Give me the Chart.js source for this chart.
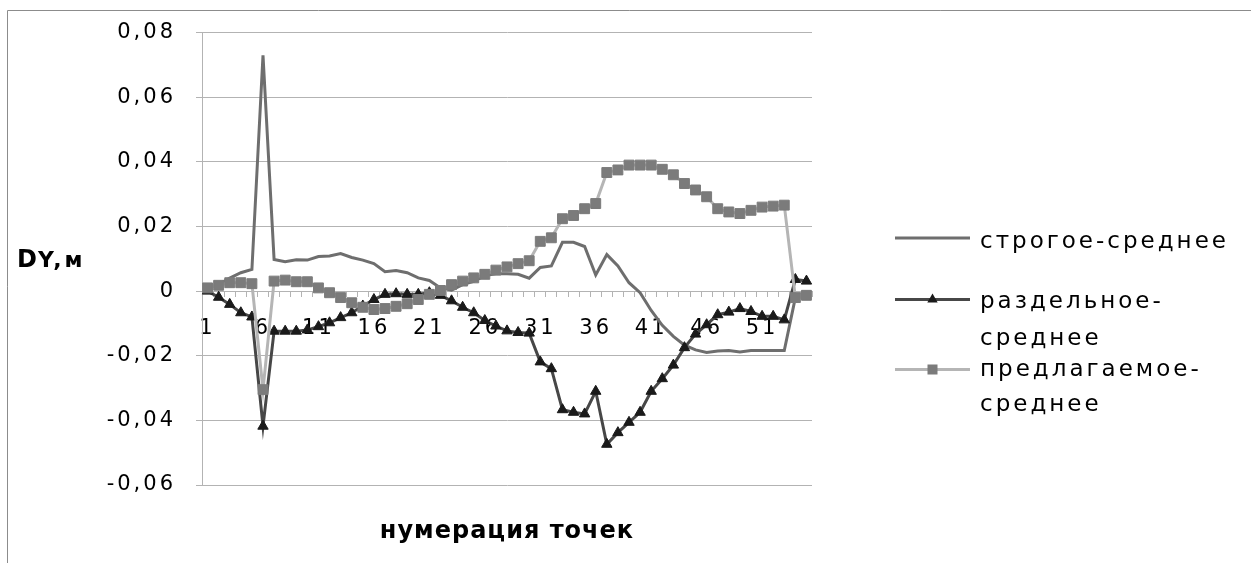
<!DOCTYPE html>
<html>
<head>
<meta charset="utf-8">
<script src="https://cdn.jsdelivr.net/npm/chart.js@4/dist/chart.umd.min.js"></script>
<style>
  html, body { margin: 0; padding: 0; background: #ffffff; }
  #wrap { position: relative; width: 1251px; height: 563px; }
</style>
</head>
<body>
<div id="wrap"><canvas id="c" width="1251" height="563"></canvas></div>
<script>
// ---- data ----
const categories = ['1','2','3','4','5','6','7','8','9','10','11','12','13','14','15','16','17','18','19','20',
  '21','22','23','24','25','26','27','28','29','30','31','32','33','34','35','36','37','38','39','40',
  '41','42','43','44','45','46','47','48','49','50','51','52','53','54','55'];

const xTickLabels = ['1','6','11','16','21','26','31','36','41','46','51'];
const yTickValues = [-0.06, -0.04, -0.02, 0, 0.02, 0.04, 0.06, 0.08];
const yTickLabels = ['-0,06','-0,04','-0,02','0','0,02','0,04','0,06','0,08'];

const seriesNames = ['строгое-среднее', 'раздельное-среднее', 'предлагаемое-среднее'];

const strogoe = [0.001, 0.002, 0.004, 0.0057, 0.0067, 0.073, 0.0098, 0.0091, 0.0097, 0.0096,
  0.0107, 0.0109, 0.0116, 0.0104, 0.0096, 0.0085, 0.006, 0.0064, 0.0057, 0.0041,
  0.0033, 0.001, 0.0003, 0.002, 0.003, 0.0048, 0.0054, 0.0054, 0.0052, 0.004,
  0.0073, 0.0078, 0.0151, 0.0151, 0.0138, 0.005, 0.0113, 0.0078, 0.0026, -0.0005,
  -0.006, -0.0106, -0.014, -0.0167, -0.0182, -0.019, -0.0185, -0.0184, -0.0188, -0.0184,
  -0.0184, -0.0184, -0.0184, -0.002, -0.0015];

const razdelnoe = [0, -0.0019, -0.0041, -0.0067, -0.008, -0.0418, -0.0124, -0.0124, -0.0124, -0.012,
  -0.011, -0.0098, -0.0082, -0.0067, -0.0046, -0.0026, -0.001, -0.0008, -0.001, -0.001,
  -0.0005, -0.0013, -0.003, -0.005, -0.0067, -0.0091, -0.0108, -0.0123, -0.0128, -0.013,
  -0.0219, -0.024, -0.0367, -0.0375, -0.038, -0.031, -0.0474, -0.0438, -0.0406, -0.0375,
  -0.031, -0.0271, -0.0229, -0.0175, -0.0133, -0.0104, -0.0073, -0.0065, -0.0054, -0.0063,
  -0.0078, -0.0078, -0.0089, 0.0036, 0.0031];

const predlagaemoe = [0.001, 0.0018, 0.0026, 0.0026, 0.0023, -0.0305, 0.0031, 0.0034, 0.0029, 0.0029,
  0.001, -0.0005, -0.002, -0.0036, -0.005, -0.0057, -0.0054, -0.0047, -0.0039, -0.0026,
  -0.001, 0.0002, 0.002, 0.0031, 0.0041, 0.0052, 0.0065, 0.0075, 0.0085, 0.0094,
  0.0154, 0.0165, 0.0224, 0.0234, 0.0255, 0.0271, 0.0367, 0.0375, 0.039, 0.039,
  0.039, 0.0377, 0.036, 0.0333, 0.0313, 0.0292, 0.0255, 0.0245, 0.024, 0.025,
  0.026, 0.0263, 0.0266, -0.002, -0.0013];

const yTitleMain = 'D';
const yTitleSub = 'Y,м';
const xTitle = 'нумерация точек';
const legendLines = [['строгое-среднее'], ['раздельное-', 'среднее'], ['предлагаемое-', 'среднее']];

// ---- styles ----
const FONT = "'DejaVu Sans', sans-serif";
const C_STROG = '#6e6e6e';
const C_RAZD_LINE = '#474747';
const C_RAZD_PT = '#1a1a1a';
const C_PRED_LINE = '#b5b5b5';
const C_PRED_PT = '#7b7b7b';
const C_GRID = '#b3b3b3';
const TICK_SPACING = '3px';

function setSpacing(ctx, v) { try { ctx.letterSpacing = v; } catch (e) {} }

const decorPlugin = {
  id: 'decor',
  beforeUpdate(chart) { setSpacing(chart.ctx, TICK_SPACING); },
  beforeLayout(chart) { setSpacing(chart.ctx, TICK_SPACING); },
  beforeDraw(chart) {
    const ctx = chart.ctx;
    setSpacing(ctx, TICK_SPACING);
    ctx.save();
    ctx.strokeStyle = '#8c8c8c';
    ctx.lineWidth = 1;
    ctx.beginPath();
    ctx.moveTo(7.5, 563);
    ctx.lineTo(7.5, 10.5);
    ctx.lineTo(1251, 10.5);
    ctx.stroke();
    ctx.restore();
  },
  afterDraw(chart) {
    const ctx = chart.ctx;
    ctx.save();
    ctx.fillStyle = '#000';
    ctx.textBaseline = 'alphabetic';
    // y title
    ctx.textAlign = 'left';
    setSpacing(ctx, '0px');
    ctx.font = 'bold 24px ' + FONT;
    ctx.fillText(yTitleMain, 17, 267);
    const w = ctx.measureText(yTitleMain).width;
    setSpacing(ctx, '3px');
    ctx.font = 'bold 22px ' + FONT;
    ctx.fillText(yTitleSub, 17 + w + 1, 267);
    // x title
    ctx.textAlign = 'center';
    setSpacing(ctx, '1px');
    ctx.font = 'bold 24px ' + FONT;
    const area = chart.chartArea;
    ctx.fillText(xTitle, (area.left + area.right) / 2, 538);

    // legend
    const lineY = [238, 299.5, 369.5];
    const textY = [[248], [308, 345], [376, 411]];
    const lineCols = [C_STROG, C_RAZD_LINE, C_PRED_LINE];
    ctx.textAlign = 'left';
    ctx.font = '23px ' + FONT;
    for (let i = 0; i < 3; i++) {
      setSpacing(ctx, '0px');
      ctx.strokeStyle = lineCols[i];
      ctx.lineWidth = 3;
      ctx.beginPath();
      ctx.moveTo(895, lineY[i]);
      ctx.lineTo(970, lineY[i]);
      ctx.stroke();
      if (i === 1) {
        ctx.fillStyle = C_RAZD_PT;
        ctx.beginPath();
        ctx.moveTo(932.5, lineY[i] - 6);
        ctx.lineTo(937.7, lineY[i] + 3);
        ctx.lineTo(927.3, lineY[i] + 3);
        ctx.closePath();
        ctx.fill();
      } else if (i === 2) {
        ctx.fillStyle = C_PRED_PT;
        ctx.fillRect(927.5, lineY[i] - 5, 10, 10);
      }
      ctx.fillStyle = '#000';
      setSpacing(ctx, '3px');
      for (let j = 0; j < legendLines[i].length; j++) {
        ctx.fillText(legendLines[i][j], 980, textY[i][j]);
      }
    }
    ctx.restore();
    setSpacing(ctx, TICK_SPACING);
  }
};

const ctx = document.getElementById('c').getContext('2d');
new Chart(ctx, {
  type: 'line',
  data: {
    labels: categories,
    datasets: [
      {
        label: seriesNames[0],
        data: strogoe,
        borderColor: C_STROG,
        backgroundColor: C_STROG,
        borderWidth: 3,
        pointRadius: 0,
        tension: 0,
        order: 3
      },
      {
        label: seriesNames[1],
        data: razdelnoe,
        borderColor: C_RAZD_LINE,
        backgroundColor: C_RAZD_PT,
        pointBackgroundColor: C_RAZD_PT,
        pointBorderColor: C_RAZD_PT,
        pointStyle: 'triangle',
        pointRadius: 6,
        pointBorderWidth: 1,
        borderWidth: 3,
        tension: 0,
        order: 2
      },
      {
        label: seriesNames[2],
        data: predlagaemoe,
        borderColor: C_PRED_LINE,
        backgroundColor: C_PRED_PT,
        pointBackgroundColor: C_PRED_PT,
        pointBorderColor: C_PRED_PT,
        pointStyle: 'rect',
        pointRadius: 7,
        pointBorderWidth: 1,
        borderWidth: 3,
        tension: 0,
        order: 1
      }
    ]
  },
  options: {
    responsive: false,
    animation: false,
    devicePixelRatio: 1,
    layout: { padding: { left: 0, right: 439, top: 32, bottom: 78 } },
    plugins: {
      legend: { display: false },
      tooltip: { enabled: false },
      title: { display: false }
    },
    scales: {
      x: {
        type: 'category',
        position: { y: 0 },
        offset: true,
        grid: {
          offset: true,
          drawOnChartArea: false,
          drawTicks: true,
          tickLength: 5,
          color: C_GRID
        },
        border: { display: true, color: C_GRID, width: 1 },
        ticks: {
          autoSkip: false,
          maxRotation: 0,
          minRotation: 0,
          padding: 20,
          color: '#000',
          font: { family: FONT, size: 21 },
          callback: function (value, index) {
            const lab = categories[index];
            return xTickLabels.includes(lab) ? lab : '';
          }
        }
      },
      y: {
        min: -0.06,
        max: 0.08,
        afterBuildTicks(scale) {
          scale.ticks = yTickValues.map(v => ({ value: v }));
        },
        afterFit(scale) { scale.width = 202; },
        grid: {
          color: C_GRID,
          drawTicks: true,
          tickLength: 6,
          lineWidth: 1
        },
        border: { display: true, color: C_GRID, width: 1 },
        ticks: {
          padding: 20,
          color: '#000',
          font: { family: FONT, size: 21 },
          callback: function (value, index) {
            const k = yTickValues.findIndex(v => Math.abs(v - value) < 1e-9);
            return k >= 0 ? yTickLabels[k] : '';
          }
        }
      }
    }
  },
  plugins: [decorPlugin]
});
</script>
</body>
</html>
